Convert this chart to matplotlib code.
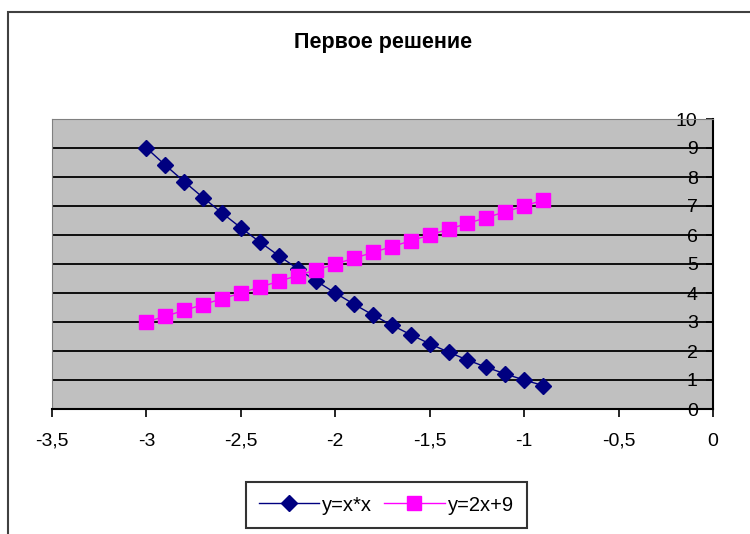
import matplotlib
matplotlib.use("Agg")
import matplotlib.pyplot as plt
from matplotlib.patches import Rectangle

plt.rcParams['font.family'] = ['Liberation Sans', 'DejaVu Sans']

# данные графика
x_vals = [-3.0, -2.9, -2.8, -2.7, -2.6, -2.5, -2.4, -2.3, -2.2, -2.1, -2.0,
          -1.9, -1.8, -1.7, -1.6, -1.5, -1.4, -1.3, -1.2, -1.1, -1.0, -0.9]
y_square = [9.0, 8.41, 7.84, 7.29, 6.76, 6.25, 5.76, 5.29, 4.84, 4.41, 4.0,
            3.61, 3.24, 2.89, 2.56, 2.25, 1.96, 1.69, 1.44, 1.21, 1.0, 0.81]
y_line = [3.0, 3.2, 3.4, 3.6, 3.8, 4.0, 4.2, 4.4, 4.6, 4.8, 5.0,
          5.2, 5.4, 5.6, 5.8, 6.0, 6.2, 6.4, 6.6, 6.8, 7.0, 7.2]

x_ticks = [-3.5, -3.0, -2.5, -2.0, -1.5, -1.0, -0.5, 0.0]
x_tick_labels = ["-3,5", "-3", "-2,5", "-2", "-1,5", "-1", "-0,5", "0"]
y_ticks = [0, 1, 2, 3, 4, 5, 6, 7, 8, 9, 10]

title = "Первое решение"
names = ["y=x*x", "y=2x+9"]

fig = plt.figure(figsize=(7.5, 5.34), dpi=100)
ax = fig.add_axes([52 / 750, 125 / 534, 661 / 750, 290 / 534])
ax.set_facecolor("#c0c0c0")

# рамка области диаграммы
fig.patches.append(Rectangle((8 / 750, -0.1), 1.1, 522 / 534 + 0.1,
                             transform=fig.transFigure, fill=False,
                             edgecolor="#404040", linewidth=1.5, clip_on=False))

ax.plot(x_vals, y_square, color="#000080", linewidth=1, marker="D",
        markersize=8.5, label=names[0], zorder=3)
ax.plot(x_vals, y_line, color="#ff00ff", linewidth=1, marker="s",
        markersize=10, label=names[1], zorder=3)

ax.set_xlim(-3.5, 0)
ax.set_ylim(0, 10)
ax.set_xticks(x_ticks)
ax.set_xticklabels(x_tick_labels)
ax.set_yticks(y_ticks)

ax.yaxis.set_ticks_position("right")
ax.tick_params(axis="y", direction="in", length=5, width=1.2, pad=-11,
               labelsize=14, colors="black")
for lab in ax.get_yticklabels():
    lab.set_horizontalalignment("right")
    lab.set_verticalalignment("center_baseline")
ax.tick_params(axis="x", direction="out", length=6, width=1.2, pad=11,
               labelsize=14)

ax.grid(axis="y", color="black", linewidth=1.3)
ax.set_axisbelow(True)

ax.spines["top"].set_color("#808080")
ax.spines["left"].set_color("#808080")
ax.spines["bottom"].set_linewidth(1.5)
ax.spines["right"].set_linewidth(1.5)

fig.text(0.511, 0.921, title, ha="center", va="center", fontsize=15.5,
         fontweight="bold")

leg = fig.legend(loc="center", bbox_to_anchor=(0.515, 0.0543), ncol=2,
                 fontsize=14.5, frameon=True, fancybox=False, handlelength=3.0,
                 handletextpad=0.15, columnspacing=0.6, borderpad=0.65)
leg.get_frame().set_edgecolor("black")
leg.get_frame().set_linewidth(1.5)

plt.savefig("out.png", dpi=100)
